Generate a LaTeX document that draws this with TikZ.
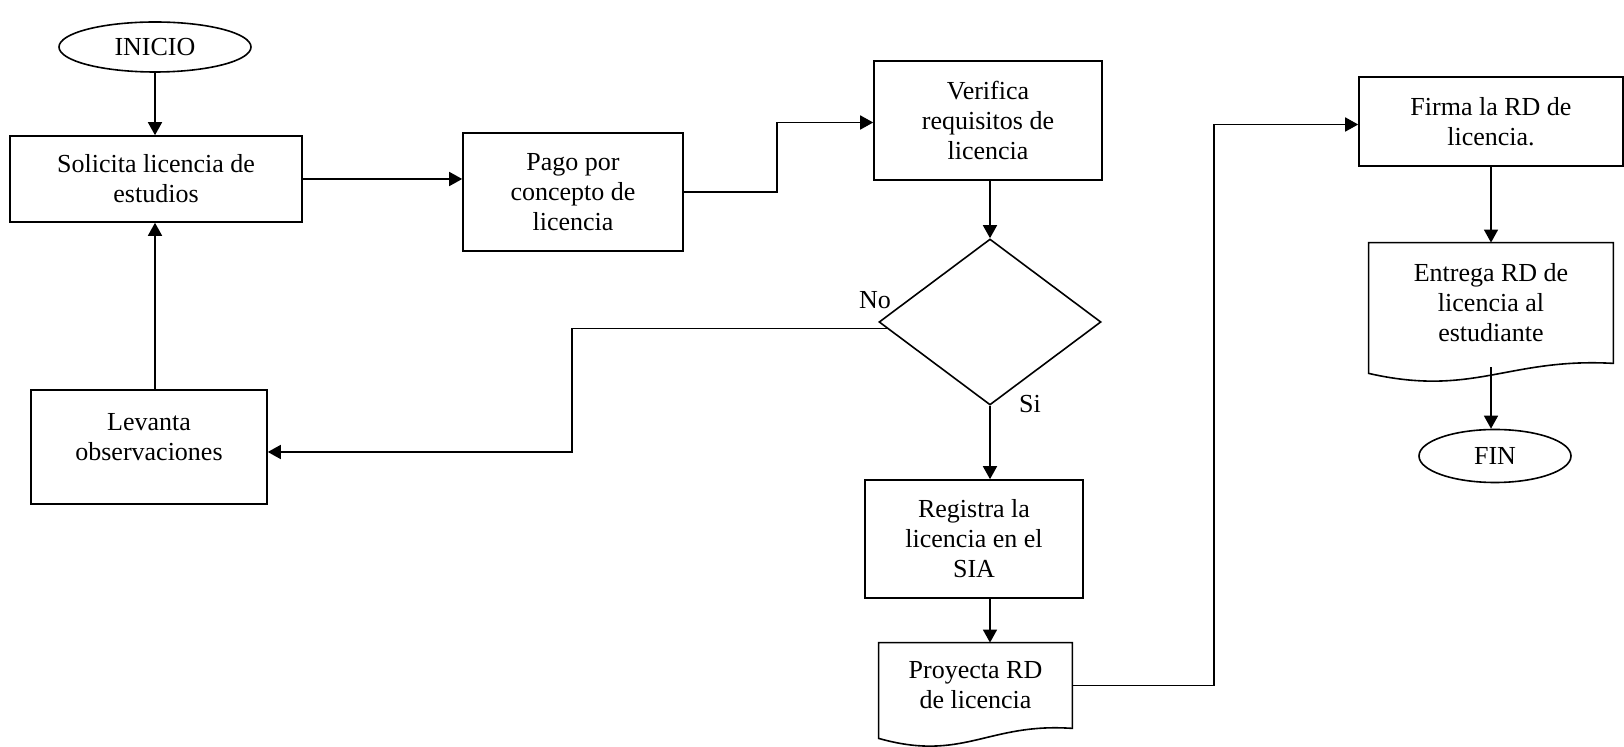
\documentclass[tikz,border=0pt]{standalone}
\usepackage{fontspec}
\setmainfont{Liberation Serif}
\usepackage{tikz}
\usetikzlibrary{arrows.meta, positioning, shapes.geometric, calc}
\tikzset{
    >={Triangle[length=6.5pt,width=7pt]}, % filled arrow heads
    x=0.5pt, y=-0.5pt, % one unit is one pixel of the sketch, y going down
    every node/.style={font=\fontsize{13pt}{15pt}\selectfont}, % text size
}
\tikzstyle{proceso} = [draw, thick, rectangle, align=center, inner sep=2pt]
\tikzstyle{documento} = [rectangle, align=center, inner sep=2pt]
\tikzstyle{terminal} = [draw, thick, ellipse, inner sep=0pt]
\tikzstyle{decision} = [draw, thick, diamond, inner sep=0pt]
\tikzstyle{arrow} = [thick, ->]
\tikzstyle{linea} = [thick]

\begin{document}
\begin{tikzpicture}
\useasboundingbox (0,0) rectangle (1624,747);

% nodes
\node[terminal, minimum width=96pt, minimum height=25pt] (inicio) at (155,47) {INICIO};
\node[proceso, minimum width=146pt, minimum height=43pt] (sol) at (156,179) {Solicita licencia de\\estudios};
\node[proceso, minimum width=110pt, minimum height=59pt] (pago) at (573,192) {Pago por\\concepto de\\licencia};
\node[proceso, minimum width=114pt, minimum height=59.5pt] (verif) at (988,120.5) {Verifica\\requisitos de\\licencia};
\node[decision, minimum width=111pt, minimum height=83pt] (dia) at (990,322) {};
\node[proceso, minimum width=118pt, minimum height=57pt] (lev) at (149,447) {Levanta\\observaciones\\[-5pt]\mbox{}};
\node[proceso, minimum width=109pt, minimum height=59pt] (reg) at (974,539) {Registra la\\licencia en el\\SIA};
\node[documento, minimum width=96.5pt, minimum height=42.5pt] (proy) at (975.5,685.5) {Proyecta RD\\de licencia};
\node[proceso, minimum width=132pt, minimum height=44.5pt] (firma) at (1491,121.5) {Firma la RD de\\licencia.};
\node[documento, minimum width=122pt, minimum height=60pt] (entr) at (1491,303) {Entrega RD de\\licencia al\\estudiante};
\node[terminal, minimum width=76pt, minimum height=26.5pt] (fin) at (1495,456) {FIN};

% labels of the decision
\node (no) at (875,300) {No};
\node (si) at (1030,404) {Si};

% document outlines
\foreach \d/\c in {proy/85, entr/105}
    \draw[linea] ([yshift=-5pt]\d.south west) -- (\d.north west) -- (\d.north east) -- (\d.south east)
        .. controls +(-\c,-6) and +(\c,24) .. ([yshift=-5pt]\d.south west) -- cycle;

% bends
\coordinate (noStart) at ($(dia.west)!0.08!(dia.south)$);
\coordinate (verifIn) at ([yshift=-1pt]verif.west);
\coordinate (firmaIn) at ([yshift=-1.5pt]firma.west);
\coordinate (levIn) at ([yshift=-2.5pt]lev.east);
\coordinate (bendA) at (777,0);
\coordinate (bendB) at (1214,0);
\coordinate (bendC) at (572,0);

% connectors
\draw[arrow] (inicio) -- (inicio |- sol.north);
\draw[arrow] (sol.east) -- (sol.east -| pago.west);
\draw[arrow] (pago.east) -| (bendA |- verifIn) -- (verifIn);
\draw[arrow] (verif.south -| dia.north) -- (dia.north);
\draw[arrow] (noStart) -| (bendC |- levIn) -- (levIn);
\draw[arrow] (lev.north -| inicio) -- (sol.south -| inicio);
\draw[arrow] (dia.south) -- (dia.south |- reg.north);
\draw[arrow] (reg.south -| dia.south) -- (proy.north -| dia.south);
\draw[arrow] (proy.east) -| (bendB |- firmaIn) -- (firmaIn);
\draw[arrow] (firma.south) -- (entr.north);
\draw[arrow] ([yshift=-2pt]entr.south) -- (entr.south |- fin.north);
\end{tikzpicture}
\end{document}
